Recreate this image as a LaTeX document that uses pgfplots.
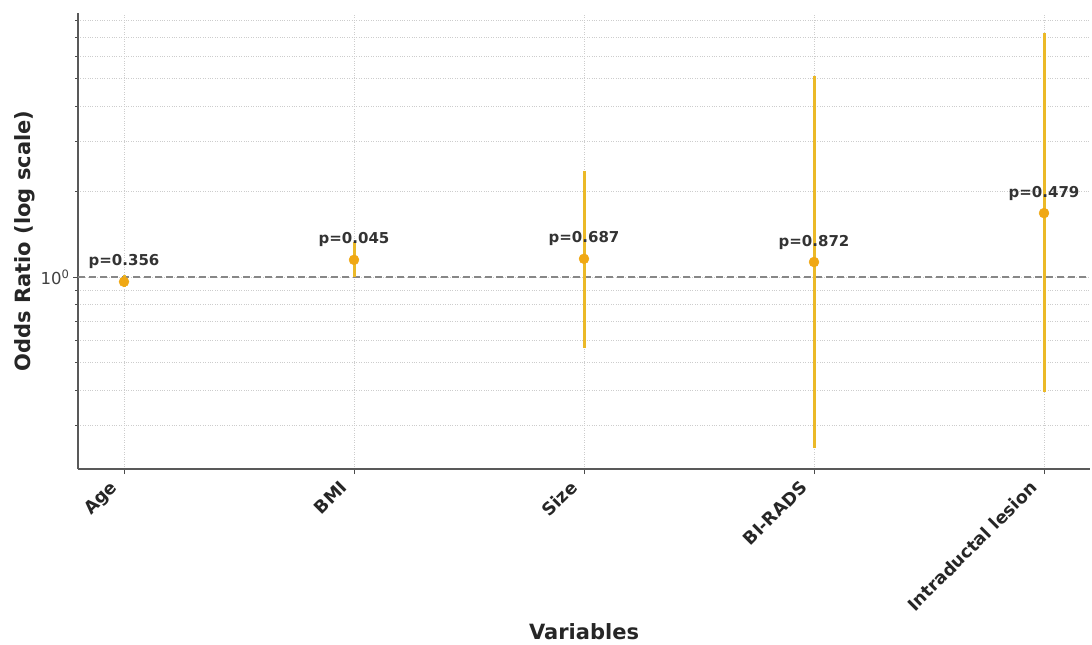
\documentclass[border=0pt]{standalone}
\usepackage{pgfplots}
\pgfplotsset{compat=1.18}
\usepackage{fontspec}
\setmainfont{DejaVu Sans}
\definecolor{ptcol}{RGB}{240,168,20}
\definecolor{barcol}{RGB}{235,185,40}
\definecolor{gridc}{RGB}{205,205,205}
\definecolor{refc}{RGB}{135,135,135}

\pgfplotstableread{
x or lo hi label
0 0.963 0.92 1.02 p=0.356
1 1.15 1.003 1.33 p=0.045
2 1.16 0.565 2.36 p=0.687
3 1.13 0.25 5.1 p=0.872
4 1.68 0.395 7.25 p=0.479
}\ortable

\begin{document}
\begin{tikzpicture}
\begin{axis}[
 name=ax,
 scale only axis, width=1012pt, height=456pt,
 xmin=-0.2, xmax=4.2,
 ymode=log, ymin=0.211, ymax=8.51,
 axis lines*=left,
 axis line style={-, draw=black!65, line width=1.3pt},
 xtick={0,1,2,3,4},
 xticklabels={Age,BMI,Size,BI-RADS,Intraductal lesion},
 xticklabel style={xshift=-15pt, yshift=-4pt, rotate=45, anchor=north east, inner sep=1pt, font=\fontsize{17.5}{20}\selectfont\bfseries, text=black!85},
 ytick={1}, yticklabels={10\textsuperscript{0}},
 minor ytick={0.3,0.4,0.5,0.6,0.7,0.8,0.9,2,3,4,5,6,7,8},
 yticklabel style={font=\fontsize{16.5}{19}\selectfont, text=black!75},
 tick align=outside, major tick length=5pt, minor tick length=3pt,
 tick style={black!70, line width=0.8pt},
 xmajorgrids, ymajorgrids, yminorgrids,
 grid style={gridc, dotted, line width=0.8pt},
 xlabel={Variables}, ylabel={Odds Ratio (log scale)},
 label style={font=\fontsize{21}{24}\selectfont\bfseries, text=black!85},
 xlabel style={at={(axis description cs:0.5,-0.357)}, anchor=center},
 ylabel style={at={(axis description cs:-0.0525,0.5)}, anchor=center},
 clip=false,
]
\addplot[refc, dash pattern=on 7pt off 4pt, line width=2pt] coordinates {(-0.2,1) (4.2,1)};
\addplot[barcol, line width=3pt] coordinates {(0,0.92) (0,1.02)};
\addplot[barcol, line width=3pt] coordinates {(1,1.003) (1,1.33)};
\addplot[barcol, line width=3pt] coordinates {(2,0.565) (2,2.36)};
\addplot[barcol, line width=3pt] coordinates {(3,0.25) (3,5.1)};
\addplot[barcol, line width=3pt] coordinates {(4,0.395) (4,7.25)};
\addplot[only marks, mark=*, mark size=5pt, ptcol, mark options={draw=ptcol, fill=ptcol},
  nodes near coords, point meta=explicit symbolic,
  nodes near coords align={anchor=base},
  every node near coord/.append style={yshift=16pt, inner sep=0pt, font=\fontsize{15}{18}\selectfont\bfseries, text=black!80}]
  table[x=x, y=or, meta=label] {\ortable};
\end{axis}
\pgfresetboundingbox
\path[use as bounding box] ([xshift=-78pt,yshift=-175pt]ax.south west) rectangle ([xshift=2pt,yshift=13pt]ax.north east);
\end{tikzpicture}
\end{document}
